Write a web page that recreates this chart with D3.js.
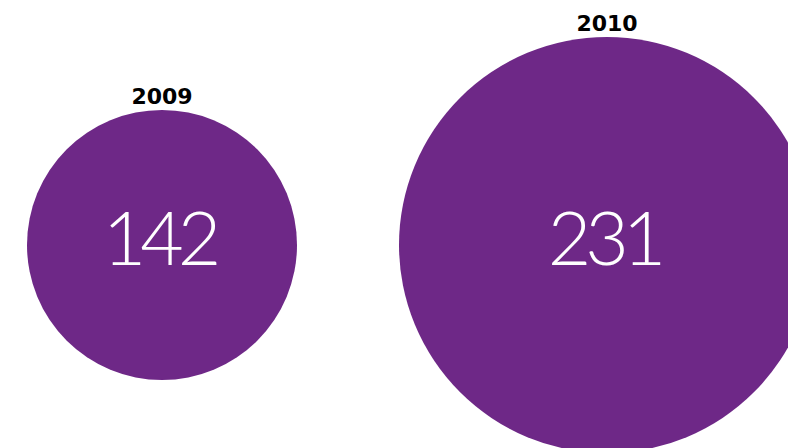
<!DOCTYPE html>
<html>
<head>
<meta charset="utf-8">
<script src="https://cdn.jsdelivr.net/npm/d3@7"></script>
<style>
    body { margin: 0; background: #fff; overflow: hidden; }
    .year { font-family: "DejaVu Sans", sans-serif; font-weight: bold; font-size: 22px; fill: #000; }
    .value { font-family: "Lato", sans-serif; font-weight: 300; font-size: 75px; fill: #fff; letter-spacing: -6px; }
</style>
</head>
<body>
<svg id="chart" width="788" height="448"></svg>
<script>
const years = ['2009', '2010'];
const values = [142, 231];

const width = 788;
const height = 448;

const svg = d3.select('#chart');

const xScale = d3.scalePoint()
    .domain(years)
    .range([162, 607]);

const rScale = d3.scaleLinear()
    .domain(d3.extent(values))
    .range([135, 208]);

const cy = 245;

const data = years.map((y, i) => ({ year: y, value: values[i] }));

const g = svg.selectAll('.bubble')
    .data(data)
    .enter()
    .append('g')
    .attr('class', 'bubble')
    .attr('transform', d => `translate(${xScale(d.year)}, ${cy})`);

g.append('circle')
    .attr('r', d => rScale(d.value))
    .attr('fill', '#6e2887');

// year label sits just above the circle
g.append('text')
    .attr('class', 'year')
    .attr('text-anchor', 'middle')
    .attr('y', d => -rScale(d.value) - 6)
    .text(d => d.year);

g.append('text')
    .attr('class', 'value')
    .attr('text-anchor', 'middle')
    .attr('x', -3)
    .attr('y', 20)
    .text(d => d.value);
</script>
</body>
</html>
